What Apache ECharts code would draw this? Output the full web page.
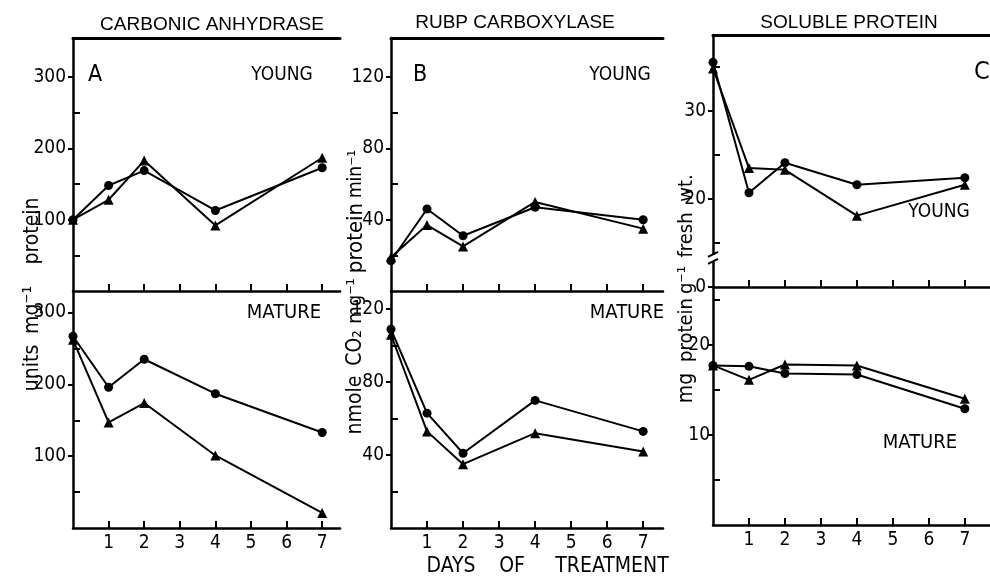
<!DOCTYPE html>
<html>
<head>
<meta charset="utf-8">
<script src="https://cdn.jsdelivr.net/npm/echarts@6/dist/echarts.min.js"></script>
<style>
  html, body { margin: 0; background: #fff; }
  #chart { width: 990px; height: 578px; }
</style>
</head>
<body>
<div id="chart"></div>
<script>
// days of treatment
var days = [0, 1, 2, 4, 7];
var dayTicks = [1, 2, 3, 4, 5, 6, 7];

// A: carbonic anhydrase (units mg-1 protein)
var caYoungDot = [100, 148, 169, 113, 173];
var caYoungTri = [100, 128, 183, 92, 187];
var caMatureDot = [267, 196, 235, 187, 133];
var caMatureTri = [262, 147, 174, 101, 21];
var caMajor = [100, 200, 300];
var caMinor = [50, 150, 250];

// B: RuBP carboxylase (nmole CO2 mg-1 protein min-1)
var rubpYoungDot = [17, 46, 31, 47, 40];
var rubpYoungTri = [19, 37, 25, 50, 35];
var rubpMatureDot = [109, 63, 41, 70, 53];
var rubpMatureTri = [106, 53, 35, 52, 42];
var rubpMajor = [40, 80, 120];
var rubpMinor = [20, 60, 100];

// C: soluble protein (mg protein g-1 fresh wt.), young axis is broken below 13
var spYoungDot = [35.5, 20.7, 24.1, 21.6, 22.4];
var spYoungTri = [34.8, 23.5, 23.3, 18.1, 21.6];
var spMatureDot = [17.7, 17.6, 16.8, 16.7, 12.9];
var spMatureTri = [17.7, 16.1, 17.8, 17.7, 14.0];
var spYoungMajor = [10, 20, 30];
var spYoungMinor = [15, 25, 35];
var spMatureMajor = [10, 20];
var spMatureMinor = [5, 15, 25];

var NARROW = "'Liberation Sans Narrow', 'DejaVu Sans Condensed', 'Liberation Sans', sans-serif";
var REG = "'Liberation Sans', Arial, sans-serif";

var grids = [], xAxes = [], yAxes = [], series = [];
var axisLine = { show: true, onZero: false, lineStyle: { color: '#000', width: 2.5 } };

function pairs(v) {
  return days.map(function (d, i) { return [d, v[i]]; });
}

function panel(p) {
  var g = grids.length;
  grids.push({ left: p.left, top: p.top, width: p.width, height: p.height });

  var xi = xAxes.length;
  xAxes.push({
    gridIndex: g, type: 'value', min: 0, max: p.xmax, position: 'bottom',
    axisLine: axisLine,
    axisTick: { inside: true, length: 7, lineStyle: { color: '#000', width: 2 }, customValues: dayTicks },
    axisLabel: { show: !!p.xLabels, customValues: dayTicks, color: '#000', fontSize: 19, fontFamily: NARROW, margin: 6 },
    splitLine: { show: false }
  });
  if (p.topLine) {
    xAxes.push({
      gridIndex: g, type: 'value', min: 0, max: p.xmax, position: 'top',
      axisLine: { show: true, onZero: false, lineStyle: { color: '#000', width: 3 } },
      axisTick: { show: false }, axisLabel: { show: false }, splitLine: { show: false }
    });
  }

  var yi = yAxes.length;
  yAxes.push({
    gridIndex: g, type: 'value', min: p.ymin, max: p.ymax, position: 'left',
    axisLine: axisLine,
    axisTick: { inside: true, length: 7, lineStyle: { color: '#000', width: 2 }, customValues: p.minor },
    axisLabel: { show: false }, splitLine: { show: false }
  });
  yAxes.push({
    gridIndex: g, type: 'value', min: p.ymin, max: p.ymax, position: 'left',
    axisLine: { show: false },
    axisTick: { show: true, inside: false, length: 5, lineStyle: { color: '#000', width: 2 }, customValues: p.major },
    axisLabel: { customValues: p.major, color: '#000', fontSize: 19, fontFamily: NARROW, margin: p.labelMargin || 7, formatter: p.fmt },
    splitLine: { show: false }
  });

  [[p.dot, 'circle', 9], [p.tri, 'triangle', 10]].forEach(function (s) {
    series.push({
      type: 'line', xAxisIndex: xi, yAxisIndex: yi, data: pairs(s[0]),
      symbol: s[1], symbolSize: s[2], showSymbol: true,
      lineStyle: { color: '#000', width: 2 },
      itemStyle: { color: '#000' },
      z: 3
    });
  });
}

panel({ left: 73, top: 38, width: 267, height: 253, xmax: 7.5, ymin: 0, ymax: 355, topLine: true,
  major: caMajor, minor: caMinor, dot: caYoungDot, tri: caYoungTri });
panel({ left: 73, top: 291, width: 267, height: 237, xmax: 7.5, ymin: 0, ymax: 330, xLabels: true,
  major: caMajor, minor: caMinor, dot: caMatureDot, tri: caMatureTri });
panel({ left: 391, top: 38, width: 272, height: 253, xmax: 7.55, ymin: 0, ymax: 142, topLine: true,
  major: rubpMajor, minor: rubpMinor, dot: rubpYoungDot, tri: rubpYoungTri });
panel({ left: 391, top: 291, width: 272, height: 237, xmax: 7.55, ymin: 0, ymax: 130, xLabels: true,
  major: rubpMajor, minor: rubpMinor, dot: rubpMatureDot, tri: rubpMatureTri });
panel({ left: 713, top: 35, width: 277, height: 252, xmax: 7.7, ymin: 10, ymax: 38.6, topLine: true,
  major: spYoungMajor, minor: spYoungMinor, dot: spYoungDot, tri: spYoungTri,
  fmt: function (v) { return v === 10 ? '0' : String(v); } });
panel({ left: 713, top: 287, width: 277, height: 238, xmax: 7.7, ymin: 0, ymax: 26.4, xLabels: true,
  major: spMatureMajor, minor: spMatureMinor, dot: spMatureDot, tri: spMatureTri, labelMargin: 3 });

function txt(s, x, y, size, font, rot, align) {
  return {
    type: 'text', x: x, y: y, rotation: rot || 0, z: 10,
    style: { text: s, fill: '#000', font: size + 'px ' + font, align: align || 'center', verticalAlign: 'middle' }
  };
}

var R = Math.PI / 2;
var texts = [
  txt('CARBONIC ANHYDRASE', 212, 25, 19, REG),
  txt('RUBP CARBOXYLASE', 515, 23, 19, REG),
  txt('SOLUBLE PROTEIN', 849, 23, 19, REG),
  txt('A', 95, 75, 23, NARROW),
  txt('YOUNG', 282, 75, 19, NARROW),
  txt('MATURE', 284, 313, 20, NARROW),
  txt('B', 420, 75, 23, NARROW),
  txt('YOUNG', 620, 75, 19, NARROW),
  txt('MATURE', 627, 313, 20, NARROW),
  txt('C', 974, 72, 25, NARROW, 0, 'left'),
  txt('YOUNG', 939, 212, 19, NARROW),
  txt('MATURE', 920, 443, 20, NARROW),
  txt('DAYS', 451, 567, 21, NARROW),
  txt('OF', 512, 567, 21, NARROW),
  txt('TREATMENT', 612, 567, 21, NARROW),
  txt('units', 33, 368, 21, NARROW, R),
  txt('mg\u207B\u00B9', 33, 310, 21, NARROW, R),
  txt('protein', 33, 231, 21, NARROW, R),
  txt('nmole', 356, 405, 21, NARROW, R),
  txt('CO\u2082', 356, 348, 21, NARROW, R),
  txt('mg\u207B\u00B9', 356, 301, 20, NARROW, R),
  txt('protein', 356, 238, 22, NARROW, R),
  txt('min\u207B\u00B9', 356, 174, 19, NARROW, R),
  txt('mg', 687, 388, 21, NARROW, R),
  txt('protein', 687, 330, 20, NARROW, R),
  txt('g\u207B\u00B9', 687, 280, 20, NARROW, R),
  txt('fresh', 687, 235, 20, NARROW, R),
  txt('wt.', 687, 188, 20, NARROW, R)
];

var chart = echarts.init(document.getElementById('chart'));
chart.setOption({
  animation: false,
  backgroundColor: '#fff',
  grid: grids,
  xAxis: xAxes,
  yAxis: yAxes,
  series: series,
  graphic: texts
});

// break mark on the young soluble-protein axis, placed in data space
var brk = chart.convertToPixel({ gridIndex: 4 }, [0, 13.3]);
var bx = brk[0], by = brk[1];
chart.setOption({
  graphic: texts.concat([
    { type: 'rect', z: 10, shape: { x: bx - 3, y: by - 3, width: 6, height: 6 }, style: { fill: '#fff' } },
    { type: 'line', z: 11, shape: { x1: bx - 5, y1: by - 1, x2: bx + 5, y2: by - 6 }, style: { stroke: '#000', lineWidth: 2 } },
    { type: 'line', z: 11, shape: { x1: bx - 5, y1: by + 6, x2: bx + 5, y2: by + 1 }, style: { stroke: '#000', lineWidth: 2 } }
  ])
});
</script>
</body>
</html>
